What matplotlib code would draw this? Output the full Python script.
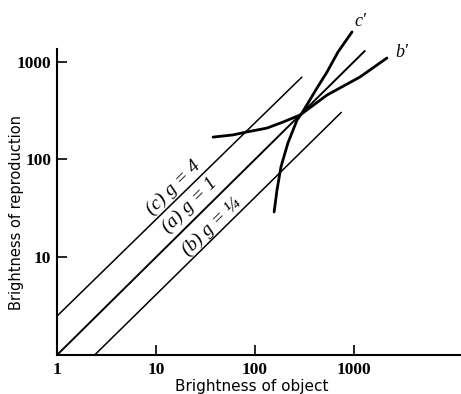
import matplotlib.pyplot as plt

# straight transfer lines (object brightness -> reproduction brightness)
line_c_x = [1, 300]
line_c_y = [2.5, 700]
line_a_x = [1, 1300]
line_a_y = [1, 1300]
line_b_x = [2.4, 750]
line_b_y = [1, 305]

# curved characteristics
curve_b_x = [37.7, 60, 83, 132, 192, 285, 534, 1150, 2150]
curve_b_y = [169, 178, 191, 209, 241, 284, 455, 696, 1088]
curve_c_x = [156, 167, 183, 215, 266, 298, 343, 423, 534, 689, 955]
curve_c_y = [29, 49, 84, 147, 253, 298, 377, 537, 783, 1253, 2010]

x_ticks = [1, 10, 100, 1000]
y_ticks = [10, 100, 1000]

W, H = 461, 394
fig = plt.figure(figsize=(W / 100, H / 100), dpi=100)
ax = fig.add_axes([57 / W, (H - 355) / H, (W - 57) / W, 355 / H])

ax.set_xscale('log')
ax.set_yscale('log')
ax.set_xlim(1, 10 ** (404 / 99))
ax.set_ylim(1, 10 ** (355 / 97.8))

ax.plot(line_c_x, line_c_y, color='black', lw=1.1, solid_capstyle='butt')
ax.plot(line_a_x, line_a_y, color='black', lw=1.4, solid_capstyle='butt')
ax.plot(line_b_x, line_b_y, color='black', lw=1.1, solid_capstyle='butt')
ax.plot(curve_b_x, curve_b_y, color='black', lw=2.0, solid_capstyle='round')
ax.plot(curve_c_x, curve_c_y, color='black', lw=2.0, solid_capstyle='round')

lab_font = dict(family='Liberation Serif', style='italic', size=14,
                rotation=44.7, rotation_mode='anchor', ha='center', va='center')
ax.text(14.9, 51, '(c) g = 4', **lab_font)
ax.text(22, 34.2, '(a) g = 1', **lab_font)
ax.text(36.8, 20.4, '(b) g = \u00bc', **lab_font)

ax.text(1020, 2600, "c\u2032", family='Liberation Serif', style='italic', size=13,
        ha='left', va='center')
ax.text(2590, 1225, "b\u2032", family='Liberation Serif', style='italic', size=13,
        ha='left', va='center')

for s in ['top', 'right']:
    ax.spines[s].set_visible(False)
ax.spines['left'].set_linewidth(1.5)
ax.spines['bottom'].set_linewidth(1.5)
ax.spines['left'].set_bounds(1, 10 ** ((355 - 49) / 97.8))

ax.set_xticks(x_ticks)
ax.set_xticklabels([str(v) for v in x_ticks])
ax.set_yticks(y_ticks)
ax.set_yticklabels([str(v) for v in y_ticks])
ax.minorticks_off()
ax.tick_params(axis='both', direction='in', length=7, width=1.2, pad=4)
ax.tick_params(axis='x', pad=5)
for t in ax.get_xticklabels() + ax.get_yticklabels():
    t.set_family('Liberation Serif')
    t.set_fontweight('bold')
    t.set_fontsize(12.5)

ax.set_xlabel('Brightness of object', family='DejaVu Sans', fontsize=11)
ax.set_ylabel('Brightness of reproduction', family='DejaVu Sans', fontsize=10.5)
ax.xaxis.set_label_coords((252 - 57) / 404, -0.068)
ax.yaxis.set_label_coords((24 - 57) / 404, 0.40)

plt.savefig('out.png', dpi=100)
